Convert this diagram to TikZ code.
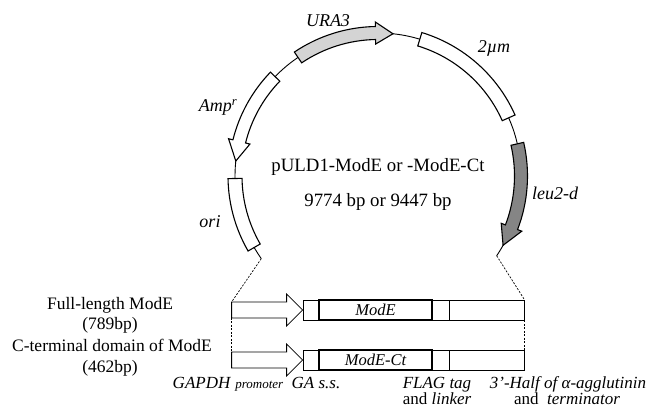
\documentclass[tikz,border=0pt]{standalone}
\usepackage{fontspec}
\setmainfont{Liberation Serif}
\usetikzlibrary{positioning,calc}
\newcommand{\ringR}{143}
\newcommand{\genearc}[4]{\draw[#1] ({#2}:{\ringR+#4}) arc[start angle=#2, end angle=#3, radius=\ringR+#4]
    -- ({#3}:{\ringR-#4}) arc[start angle=#3, end angle=#2, radius=\ringR-#4] -- cycle;}
\newcommand{\genearrow}[4]{\draw[#1] ({#2}:{\ringR+6.5}) arc[start angle=#2, end angle=#3, radius=\ringR+6.5]
    -- ({#3}:{\ringR+11}) -- ({#4}:\ringR) -- ({#3}:{\ringR-11}) -- ({#3}:{\ringR-6.5})
    arc[start angle=#3, end angle=#2, radius=\ringR-6.5] -- cycle;}

\begin{document}
\begin{tikzpicture}[x=1pt, y=1pt,
    bb/.style={line width=0.9pt},
    gene/.style={draw, line width=1.1pt, fill=white, line join=miter},
    ura/.style={gene, fill=black!17},
    leu/.style={gene, fill=black!48},
    lbl/.style={font=\fontsize{18}{21}\selectfont\itshape, anchor=base},
    ctr/.style={font=\fontsize{18.8}{22}\selectfont, anchor=base},
    txt/.style={font=\fontsize{17.5}{20}\selectfont, anchor=base},
    note/.style={font=\fontsize{17}{20}\selectfont, anchor=base},
    unit/.style={draw, line width=0.8pt, minimum width=221pt, minimum height=20pt, inner sep=0pt},
    orf/.style={draw, line width=1.8pt, minimum width=113pt, minimum height=20pt, inner sep=0pt,
                font=\fontsize{16.5}{18}\selectfont\itshape},
    prom/.style={draw, line width=0.8pt, fill=white},
    zoomln/.style={line width=0.7pt, dash pattern=on 2pt off 1.5pt}
]
\useasboundingbox (0,0) rectangle (646,410);
\begin{scope}[shift={(378,234)}]
\draw[bb] (-33.9:\ringR) coordinate (bbR) arc[start angle=-33.9, end angle=215.3, radius=\ringR] coordinate (bbL);
\genearrow{ura}{124}{91}{84}
\genearc{gene}{73}{24}{7}
\genearrow{leu}{13}{-21}{-29}
\genearrow{gene}{136}{166}{174}
\genearc{gene}{181}{210}{7}
\end{scope}
\node[lbl] (ura3) at (328,383) {URA3};
\node[lbl] (twomu) at (494,357) {2µm};
\node[lbl] (amp) at (218,298) {Amp\textsuperscript{r}};
\node[lbl] (ori) at (210,182) {ori};
\node[lbl] (leu2) at (555,210) {leu2-d};
\node[ctr] (pname) at (378,238) {pULD1-ModE or -ModE-Ct};
\node[ctr] (psize) at (378,203) {9774 bp or 9447 bp};

\node[unit] (rowA) at (413.5,100) {};
\node[orf] (modeA) at (375.5,100) {ModE};
\draw[line width=0.8pt] (modeA.south east) ++(16,0) -- ++(0,20);
\draw[prom] (rowA.west) -- ++(-16,-16) -- ++(0,8) -- ++(-55,0) coordinate (tailAb)
    -- ++(0,16) coordinate (tailAt) -- ++(55,0) -- ++(0,8) -- cycle;
\node[unit] (rowB) at (413.5,50) {};
\node[orf] (modeB) at (375.5,50) {ModE-Ct};
\draw[line width=0.8pt] (modeB.south east) ++(16,0) -- ++(0,20);
\draw[prom] (rowB.west) -- ++(-16,-16) -- ++(0,8) -- ++(-55,0)
    -- ++(0,16) coordinate (tailBt) -- ++(55,0) -- ++(0,8) -- cycle;
\draw[zoomln] (bbL) -- (tailAt);
\draw[zoomln] (tailAb) -- (tailBt);
\draw[zoomln] (bbR) -- (rowA.north east);
\draw[zoomln] (rowA.south east) -- (rowB.north east);

\node[txt] (fullA) at (110,100) {Full-length ModE};
\node[txt] (fullB) at (110,80) {(789bp)};
\node[txt] (ctA) at (112,58) {C-terminal domain of ModE};
\node[txt] (ctB) at (110,37) {(462bp)};
\node[note] (gapdh) at (228,21) {\textit{GAPDH} {\fontsize{13}{15}\selectfont\itshape promoter}};
\node[note] (gass) at (316,21) {\textit{GA s.s.}};
\node[note] (flag) at (437,21) {\textit{FLAG tag}};
\node[note] (linker) at (437,5) {and \textit{linker}};
\node[note] (half) at (568,21) {\textit{3'-Half of α-agglutinin}};
\node[note] (term) at (567,5) {and \ \textit{terminator}};
\end{tikzpicture}
\end{document}
